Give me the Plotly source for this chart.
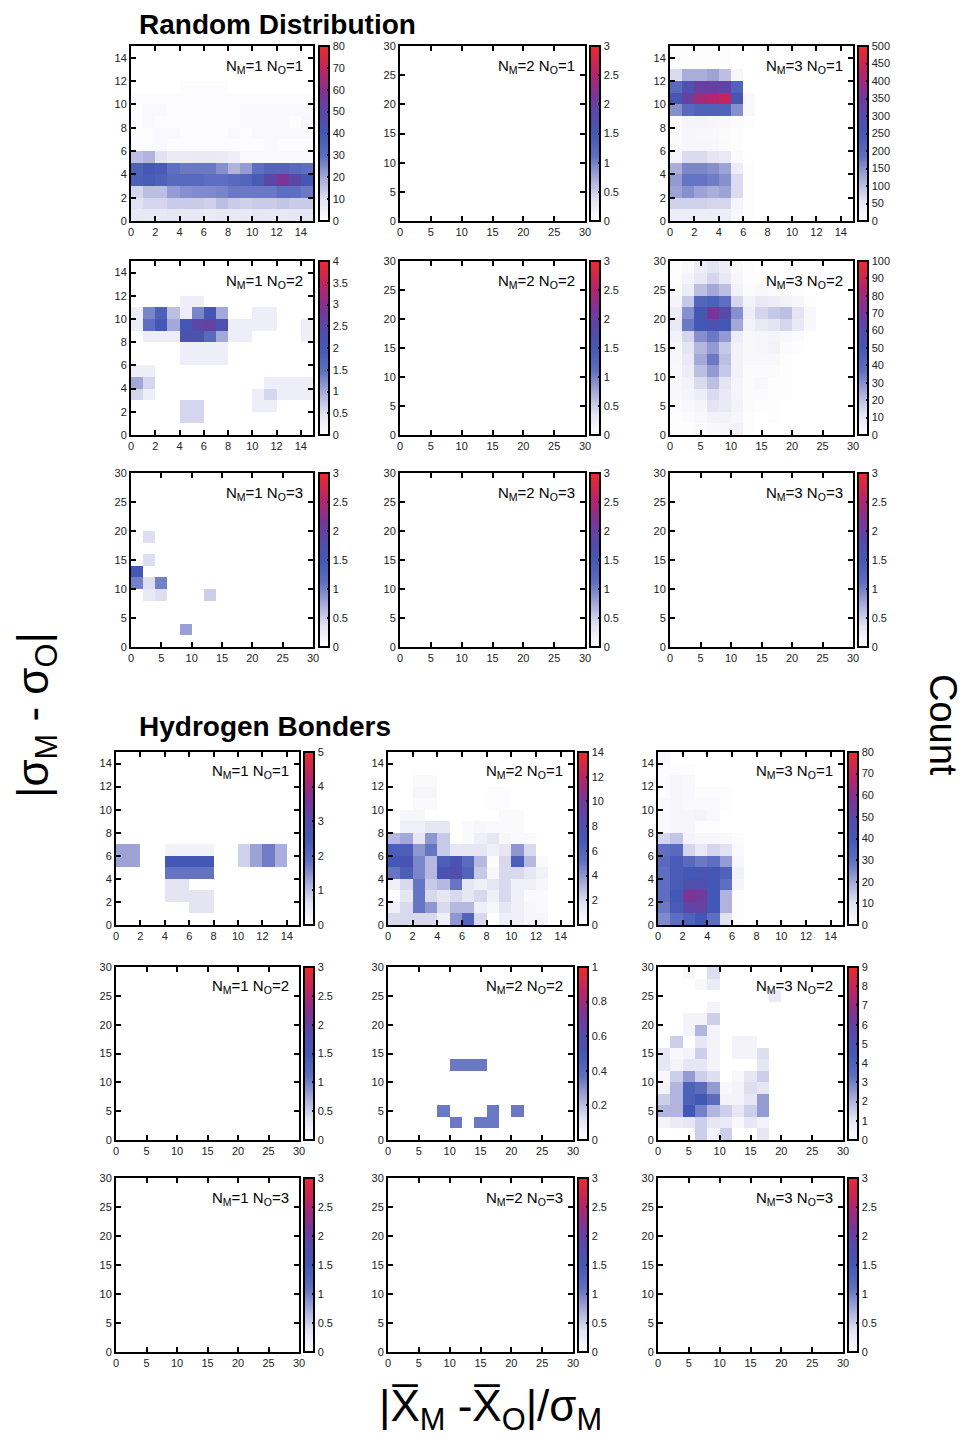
import plotly.graph_objects as go

PAGE_W, PAGE_H = 975, 1446
OFF = 8  # default body margin of the html page
W, H = PAGE_W - 2 * OFF, PAGE_H - 2 * OFF
FONT = "Liberation Sans, Arial, sans-serif"

# ---------------- data (15 x 15 bins, rows = y bins from bottom) ----------------
rand_m1_o1 = [
    [8, 8, 8, 9, 8, 8, 7, 8, 8, 8, 9, 8, 8, 9, 9],
    [10, 12, 12, 14, 14, 14, 13, 16, 14, 13, 14, 14, 15, 14, 14],
    [12, 16, 16, 22, 24, 25, 25, 26, 28, 28, 28, 28, 30, 30, 28],
    [36, 38, 36, 32, 32, 32, 30, 30, 32, 34, 38, 50, 58, 50, 40],
    [36, 40, 38, 30, 28, 28, 28, 24, 18, 22, 30, 34, 34, 32, 30],
    [16, 18, 10, 7, 7, 8, 8, 7, 6, 2, 2, 2, 2, 2, 2],
    [1, 1, 2, 1, 1, 1, 1, 1, 1, 1, 1, 2, 1, 1, 1],
    [1, 1, 2, 2, 1, 1, 1, 1, 2, 1, 2, 2, 2, 2, 2],
    [1, 2, 1, 1, 1, 1, 1, 1, 1, 2, 2, 2, 2, 1, 3],
    [1, 2, 2, 1, 1, 1, 1, 1, 1, 2, 2, 2, 2, 2, 2],
    [1, 1, 1, 1, 1, 1, 1, 1, 1, 1, 1, 1, 1, 1, 1],
    [0, 0, 0, 0, 1, 1, 1, 1, 0, 0, 0, 0, 0, 0, 0],
    [0] * 15, [0] * 15, [0] * 15,
]

rand_m3_o1 = [
    [40, 40, 40, 40, 40, 15, 5, 0, 0, 0, 0, 0, 0, 0, 0],
    [80, 80, 80, 75, 75, 25, 5, 0, 0, 0, 0, 0, 0, 0, 0],
    [130, 150, 130, 120, 130, 70, 5, 0, 0, 0, 0, 0, 0, 0, 0],
    [140, 180, 180, 170, 150, 70, 5, 0, 0, 0, 0, 0, 0, 0, 0],
    [120, 160, 160, 150, 130, 40, 5, 0, 0, 0, 0, 0, 0, 0, 0],
    [25, 70, 70, 60, 50, 10, 2, 0, 0, 0, 0, 0, 0, 0, 0],
    [10, 20, 20, 20, 12, 5, 0, 0, 0, 0, 0, 0, 0, 0, 0],
    [10, 20, 15, 15, 10, 5, 0, 0, 0, 0, 0, 0, 0, 0, 0],
    [10, 25, 25, 20, 15, 10, 5, 0, 0, 0, 0, 0, 0, 0, 0],
    [150, 200, 220, 220, 220, 150, 15, 0, 0, 0, 0, 0, 0, 0, 0],
    [250, 330, 400, 420, 440, 260, 15, 0, 0, 0, 0, 0, 0, 0, 0],
    [200, 280, 330, 330, 320, 220, 0, 0, 0, 0, 0, 0, 0, 0, 0],
    [70, 120, 120, 130, 100, 20, 0, 0, 0, 0, 0, 0, 0, 0, 0],
    [5, 5, 5, 5, 5, 0, 0, 0, 0, 0, 0, 0, 0, 0, 0],
    [5, 5, 5, 5, 5, 0, 0, 0, 0, 0, 0, 0, 0, 0, 0],
]

rand_m1_o2 = [
    [0, 0, 0, 0, 0, 0, 0, 0, 0, 0, 0, 0, 0, 0, 0],
    [0, 0, 0, 0, 0.6, 0.6, 0, 0, 0, 0, 0, 0, 0, 0, 0],
    [0, 0, 0, 0, 0.6, 0.6, 0, 0, 0, 0, 0.3, 0.3, 0, 0, 0],
    [0.6, 0.3, 0, 0, 0, 0, 0, 0, 0, 0, 0.3, 0.6, 0.3, 0.3, 0.3],
    [1.0, 0.6, 0, 0, 0, 0, 0, 0, 0, 0, 0, 0.3, 0.3, 0.3, 0.3],
    [0.3, 0.3, 0, 0, 0, 0, 0, 0, 0, 0, 0, 0, 0, 0, 0],
    [0, 0, 0, 0, 0.3, 0.3, 0.3, 0.3, 0, 0, 0, 0, 0, 0, 0],
    [0, 0, 0, 0, 0.3, 0.3, 0.3, 0.3, 0, 0, 0, 0, 0, 0, 0],
    [0, 0.3, 0.3, 0.3, 2.2, 2.2, 1.6, 1.0, 0.3, 0.3, 0, 0, 0, 0, 0.3],
    [0.3, 1.5, 2.0, 1.0, 2.0, 2.5, 2.6, 2.2, 0.3, 0.3, 0.3, 0.3, 0, 0, 0.3],
    [0.3, 1.3, 1.8, 0.8, 0.3, 1.3, 2.0, 1.0, 0, 0, 0.3, 0.3, 0, 0, 0],
    [0, 0, 0, 0, 0.3, 0.3, 0, 0, 0, 0, 0, 0, 0, 0, 0],
    [0] * 15, [0] * 15, [0] * 15,
]

rand_m3_o2 = [
    [1, 1, 2, 3, 4, 6, 1, 0, 0, 0, 0, 0, 0, 0, 0],
    [1, 2, 3, 6, 6, 4, 1, 0, 1, 0, 0, 0, 0, 0, 0],
    [2, 3, 5, 12, 10, 6, 2, 1, 1, 0, 0, 0, 0, 0, 0],
    [3, 5, 8, 14, 10, 5, 2, 2, 1, 1, 0, 0, 0, 0, 0],
    [3, 6, 14, 20, 12, 5, 2, 3, 1, 1, 0, 0, 0, 0, 0],
    [3, 8, 20, 28, 18, 6, 2, 2, 2, 1, 0, 0, 0, 0, 0],
    [4, 10, 25, 35, 20, 6, 3, 3, 3, 1, 0, 0, 0, 0, 0],
    [4, 12, 22, 28, 18, 6, 3, 4, 6, 2, 1, 0, 0, 0, 0],
    [6, 15, 30, 35, 28, 8, 3, 4, 5, 3, 2, 0, 0, 0, 0],
    [10, 35, 50, 55, 50, 25, 6, 10, 12, 15, 10, 3, 0, 0, 0],
    [8, 30, 50, 72, 60, 30, 8, 15, 18, 20, 12, 3, 0, 0, 0],
    [5, 18, 42, 45, 38, 15, 6, 10, 8, 6, 4, 1, 0, 0, 0],
    [2, 8, 20, 25, 20, 6, 2, 3, 2, 2, 1, 0, 0, 0, 0],
    [1, 5, 10, 15, 10, 4, 1, 1, 1, 0, 0, 0, 0, 0, 0],
    [1, 3, 8, 12, 8, 3, 1, 0, 0, 0, 0, 0, 0, 0, 0],
]

# sparse panels: (x bin, y bin, count)
rand_m1_o3_cells = [(1, 9, 0.4), (1, 7, 0.4), (0, 6, 1.5), (0, 5, 1.0), (1, 5, 0.4),
                    (1, 4, 0.3), (2, 5, 1.0), (2, 4, 0.4), (6, 4, 0.5), (4, 1, 0.8)]

hb_m1_o1 = [
    [0, 0, 0, 0, 0, 0, 0, 0, 0, 0, 0, 0, 0, 0, 0],
    [0, 0, 0, 0, 0, 0, 0.6, 0.6, 0, 0, 0, 0, 0, 0, 0],
    [0, 0, 0, 0, 0.6, 0.6, 0.6, 0.6, 0, 0, 0, 0, 0, 0, 0],
    [0, 0, 0, 0, 0.6, 0.6, 0, 0, 0, 0, 0, 0, 0, 0, 0],
    [0, 0, 0, 0, 1.8, 1.8, 1.8, 1.8, 0, 0, 0, 0, 0, 0, 0],
    [1.3, 1.3, 0, 0, 2.5, 2.5, 2.5, 2.5, 0, 0, 0.8, 1.3, 1.7, 1.2, 0],
    [1.3, 1.3, 0, 0, 0.3, 0.3, 0.3, 0.3, 0, 0, 0.8, 1.3, 1.7, 1.2, 0],
    [0] * 15, [0] * 15, [0] * 15, [0] * 15, [0] * 15, [0] * 15, [0] * 15, [0] * 15,
]

hb_m2_o1 = [
    [2, 2, 2, 2, 1, 4, 6, 2, 0, 1, 1, 0.5, 0.5, 0, 0],
    [1, 2, 5, 4, 2, 3, 3, 1, 0.5, 1.5, 1, 0.5, 0.3, 0, 0],
    [0, 1.5, 5, 2, 1.5, 2, 1.5, 2, 1, 2, 1, 0.3, 0.3, 0, 0],
    [1, 2, 5, 2.5, 3, 5, 1.5, 1, 1.5, 2, 1, 1, 0.5, 0, 0],
    [5, 6.5, 4.5, 3, 7.5, 8, 6, 2.5, 0.5, 2, 2, 1.5, 0.8, 0, 0],
    [7, 7.5, 4.5, 3, 6.5, 7.5, 5.5, 3, 0.2, 2, 6.5, 3, 0.3, 0, 0],
    [6.5, 6.5, 4, 5, 2.5, 1.5, 1.5, 1.5, 1, 1.5, 4, 2, 0, 0, 0],
    [3, 3.5, 1.5, 4, 2.5, 0, 0.3, 1, 1.5, 0.5, 0.3, 0.3, 0, 0, 0],
    [0, 1, 1, 1.5, 1.5, 0, 0.3, 0.5, 0.3, 0.3, 0.3, 0, 0, 0, 0],
    [0, 0.5, 0.5, 0, 0, 0, 0, 0, 0, 0.3, 0.3, 0, 0, 0, 0],
    [0, 0, 0.3, 0.3, 0, 0, 0, 0, 0.2, 0.2, 0, 0, 0, 0, 0],
    [0, 0, 0.5, 0.5, 0, 0, 0, 0, 0.2, 0.2, 0, 0, 0, 0, 0],
    [0, 0, 0.3, 0.3, 0, 0, 0, 0, 0, 0, 0, 0, 0, 0, 0],
    [0] * 15, [0] * 15,
]

hb_m3_o1 = [
    [25, 30, 35, 40, 30, 10, 1, 0, 0, 0, 0, 0, 0, 0, 0],
    [28, 38, 50, 52, 40, 18, 1, 0, 0, 0, 0, 0, 0, 0, 0],
    [30, 40, 58, 55, 40, 18, 1, 0, 0, 0, 0, 0, 0, 0, 0],
    [30, 38, 45, 45, 40, 30, 4, 0, 0, 0, 0, 0, 0, 0, 0],
    [30, 38, 40, 42, 40, 35, 5, 0, 0, 0, 0, 0, 0, 0, 0],
    [32, 38, 32, 28, 30, 22, 3, 0, 0, 0, 0, 0, 0, 0, 0],
    [30, 32, 12, 8, 12, 10, 2, 0, 0, 0, 0, 0, 0, 0, 0],
    [12, 15, 4, 3, 3, 2, 1, 0, 0, 0, 0, 0, 0, 0, 0],
    [2, 3, 3, 1, 1, 0, 0, 0, 0, 0, 0, 0, 0, 0, 0],
    [2, 3, 3, 4, 2, 0, 0, 0, 0, 0, 0, 0, 0, 0, 0],
    [2, 3, 2, 2, 2, 1, 0, 0, 0, 0, 0, 0, 0, 0, 0],
    [1, 3, 2, 1, 1, 1, 0, 0, 0, 0, 0, 0, 0, 0, 0],
    [1, 3, 2, 0, 0, 0, 0, 0, 0, 0, 0, 0, 0, 0, 0],
    [1, 1, 1, 0, 0, 0, 0, 0, 0, 0, 0, 0, 0, 0, 0],
    [2, 0, 0, 0, 0, 0, 0, 0, 0, 0, 0, 0, 0, 0, 0],
]

hb_m2_o2_cells = [(5, 6, 0.35), (6, 6, 0.35), (7, 6, 0.35), (4, 2, 0.35), (5, 1, 0.35),
                  (7, 1, 0.35), (8, 1, 0.35), (8, 2, 0.35), (10, 2, 0.35)]

hb_m3_o2 = [
    [0, 0, 0, 1.5, 0.5, 1.5, 0, 0, 1.0, 0, 0, 0, 0, 0, 0],
    [0.5, 0.8, 1, 1.5, 1, 0.8, 0.3, 1, 0.5, 0, 0, 0, 0, 0, 0],
    [2, 2, 4.5, 3, 2, 1.5, 1, 1.5, 2.5, 0, 0, 0, 0, 0, 0],
    [1.5, 2, 4, 4.5, 3.5, 0.5, 0.5, 1, 2.5, 0, 0, 0, 0, 0, 0],
    [0.5, 2, 4, 3.5, 2.5, 0.3, 0.5, 1.2, 1, 0, 0, 0, 0, 0, 0],
    [0.3, 1.5, 2.5, 1.5, 1.2, 0, 0.3, 1, 1.5, 0, 0, 0, 0, 0, 0],
    [1, 0.5, 1, 1, 0.5, 0, 0, 0, 1, 0, 0, 0, 0, 0, 0],
    [1, 0.3, 0.5, 1.5, 0.5, 0, 0.5, 0.5, 1.2, 0, 0, 0, 0, 0, 0],
    [0, 1.5, 0, 1, 0.5, 0, 0.5, 0.5, 0, 0, 0, 0, 0, 0, 0],
    [0, 0, 0.5, 2, 0.5, 0, 0, 0, 0, 0, 0, 0, 0, 0, 0],
    [0, 0, 0.5, 0.5, 1.5, 0, 0, 0, 0, 0, 0, 0, 0, 0, 0],
    [0, 0, 0, 0, 0.5, 0, 0, 0, 0, 0, 0, 0, 0, 0, 0],
    [0, 0, 0, 0, 0, 0, 0, 0, 0, 0.8, 0, 0, 0, 0, 0],
    [0, 0, 0, 0.3, 0.8, 0, 0, 0, 0, 0, 0, 0, 0, 0, 0],
    [0, 0, 0.3, 0, 1.2, 0, 0, 0, 0, 0, 0, 0, 0, 0, 0],
]

empty_cells = []

# colour-bar maxima and steps
panel_zmax = {
    "R11": 80, "R21": 3, "R31": 500,
    "R12": 4, "R22": 3, "R32": 100,
    "R13": 3, "R23": 3, "R33": 3,
    "H11": 5, "H21": 14, "H31": 80,
    "H12": 3, "H22": 1, "H32": 9,
    "H13": 3, "H23": 3, "H33": 3,
}
panel_dtick = {
    "R11": 10, "R21": 0.5, "R31": 50,
    "R12": 0.5, "R22": 0.5, "R32": 10,
    "R13": 0.5, "R23": 0.5, "R33": 0.5,
    "H11": 1, "H21": 2, "H31": 10,
    "H12": 0.5, "H22": 0.2, "H32": 1,
    "H13": 0.5, "H23": 0.5, "H33": 0.5,
}
panel_range = {
    "R11": 15, "R21": 30, "R31": 15,
    "R12": 15, "R22": 30, "R32": 30,
    "R13": 30, "R23": 30, "R33": 30,
    "H11": 15, "H21": 15, "H31": 15,
    "H12": 30, "H22": 30, "H32": 30,
    "H13": 30, "H23": 30, "H33": 30,
}


def from_cells(cells):
    z = [[0] * 15 for _ in range(15)]
    for xb, yb, v in cells:
        z[yb][xb] = v
    return z


panel_z = {
    "R11": rand_m1_o1, "R21": from_cells(empty_cells), "R31": rand_m3_o1,
    "R12": rand_m1_o2, "R22": from_cells(empty_cells), "R32": rand_m3_o2,
    "R13": from_cells(rand_m1_o3_cells), "R23": from_cells(empty_cells), "R33": from_cells(empty_cells),
    "H11": hb_m1_o1, "H21": hb_m2_o1, "H31": hb_m3_o1,
    "H12": from_cells(empty_cells), "H22": from_cells(hb_m2_o2_cells), "H32": hb_m3_o2,
    "H13": from_cells(empty_cells), "H23": from_cells(empty_cells), "H33": from_cells(empty_cells),
}

# ---------------- layout geometry (page pixels) ----------------
groups = {
    "R": dict(cols=[(131, 313, 319), (400, 585, 590), (670, 853, 858)],
              rows=[(46, 221), (261, 435), (473, 647)]),
    "H": dict(cols=[(116, 299, 304), (388, 573, 578), (658, 843, 848)],
              rows=[(752, 925), (967, 1140), (1178, 1352)]),
}


def fx(px):
    return (px - OFF) / W


def fy(py):
    return 1 - (py - OFF) / H


colorscale = [
    [0.0, "#ffffff"], [0.12, "#e4e4f3"], [0.25, "#a4a8d8"], [0.37, "#5f6fc0"],
    [0.5, "#4358b5"], [0.62, "#5a48a8"], [0.72, "#7a3598"], [0.85, "#b8246a"],
    [1.0, "#ee2a2a"],
]

TICKCOL = "#222222"

fig = go.Figure()
annotations = []
idx = 0
for g in ["R", "H"]:
    for r, (yt, yb) in enumerate(groups[g]["rows"]):
        for c, (xl, xr, cbx) in enumerate(groups[g]["cols"]):
            idx += 1
            key = f"{g}{c + 1}{r + 1}"
            rng = panel_range[key]
            step = rng / 15
            centers = [step * (i + 0.5) for i in range(15)]
            xa = "x" if idx == 1 else f"x{idx}"
            ya = "y" if idx == 1 else f"y{idx}"
            fig.add_trace(go.Heatmap(
                z=panel_z[key], x=centers, y=centers, xaxis=xa, yaxis=ya,
                zmin=0, zmax=panel_zmax[key], colorscale=colorscale, zsmooth=False,
                hoverinfo="skip",
                colorbar=dict(
                    x=fx(cbx), xanchor="left", xpad=0,
                    y=fy(yb), yanchor="bottom", ypad=0,
                    len=yb - yt, lenmode="pixels",
                    thickness=10, thicknessmode="pixels",
                    outlinewidth=2, outlinecolor="black",
                    ticks="inside", ticklen=3, tickwidth=1.5, tickcolor="black",
                    tick0=0, dtick=panel_dtick[key],
                    tickfont=dict(size=11, color=TICKCOL, family=FONT),
                ),
            ))
            tv = list(range(0, 15, 2)) if rng == 15 else list(range(0, 31, 5))
            axcommon = dict(
                range=[0, rng], tickvals=tv, showgrid=False, zeroline=False,
                showline=True, linewidth=2, linecolor="black", mirror="ticks",
                ticks="inside", ticklen=5, tickwidth=2, tickcolor="black",
                tickfont=dict(size=11, color=TICKCOL, family=FONT), fixedrange=True,
            )
            fig.layout[f"xaxis{'' if idx == 1 else idx}"] = dict(
                domain=[fx(xl), fx(xr)], anchor=ya, **axcommon)
            fig.layout[f"yaxis{'' if idx == 1 else idx}"] = dict(
                domain=[fy(yb), fy(yt)], anchor=xa, **axcommon)
            annotations.append(dict(
                xref=f"{xa} domain", yref=f"{ya} domain", x=0.955, y=0.885,
                xanchor="right", yanchor="middle", showarrow=False,
                text=f"N<sub>M</sub>={c + 1} N<sub>O</sub>={r + 1}",
                font=dict(size=15, color="black", family=FONT),
            ))

annotations += [
    dict(xref="paper", yref="paper", x=fx(137), y=fy(24), xanchor="left", yanchor="middle",
         text="<b>Random Distribution</b>", showarrow=False,
         font=dict(size=28, color="black", family=FONT)),
    dict(xref="paper", yref="paper", x=fx(137), y=fy(727), xanchor="left", yanchor="middle",
         text="<b>Hydrogen Bonders</b>", showarrow=False,
         font=dict(size=28, color="black", family=FONT)),
    dict(xref="paper", yref="paper", x=fx(36), y=fy(715), xanchor="center", yanchor="middle",
         text="|σ<sub>M</sub> - σ<sub>O</sub>|", showarrow=False, textangle=-90,
         font=dict(size=44, color="black", family=FONT)),
    dict(xref="paper", yref="paper", x=fx(943), y=fy(725), xanchor="center", yanchor="middle",
         text="Count", showarrow=False, textangle=90,
         font=dict(size=38, color="black", family=FONT)),
    dict(xref="paper", yref="paper", x=fx(490), y=fy(1409), xanchor="center", yanchor="middle",
         text="|X\u0305<sub>M</sub> -X\u0305<sub>O</sub>|/σ<sub>M</sub>", showarrow=False,
         font=dict(size=44, color="black", family=FONT)),
]

fig.update_layout(
    width=W, height=H, margin=dict(l=0, r=0, t=0, b=0, autoexpand=False),
    paper_bgcolor="white", plot_bgcolor="white", showlegend=False,
    annotations=annotations, font=dict(family=FONT),
)

fig.write_html("out.html")
